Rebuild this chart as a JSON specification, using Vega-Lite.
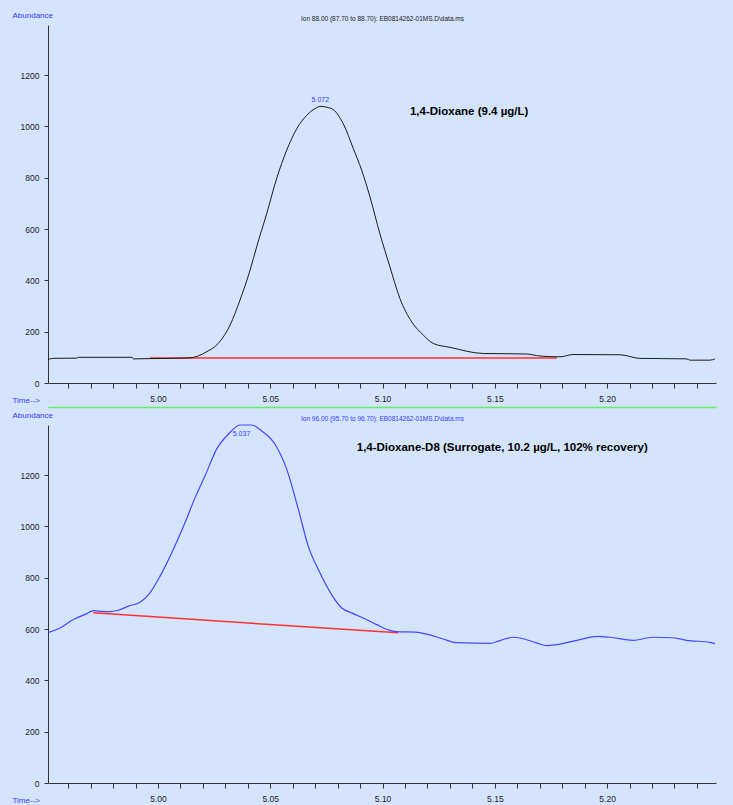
{
  "$schema": "https://vega.github.io/schema/vega-lite/v6.json",
  "background": "#d4e4fc",
  "padding": {"left": 12, "top": 11, "right": 17, "bottom": 1},
  "config": {"view": {"stroke": null}, "font": "Liberation Sans, Arial, sans-serif"},
  "spacing": 42,
  "bounds": "flush",
  "datasets": {
    "top": [
      {"t": 4.951, "v": 92}, {"t": 4.9533, "v": 96}, {"t": 4.9639, "v": 97}, {"t": 4.9645, "v": 100},
      {"t": 4.9885, "v": 100}, {"t": 4.989, "v": 94}, {"t": 4.9964, "v": 95}, {"t": 5.0142, "v": 98},
      {"t": 5.0217, "v": 122}, {"t": 5.0268, "v": 154}, {"t": 5.0321, "v": 226}, {"t": 5.0365, "v": 323},
      {"t": 5.041, "v": 440}, {"t": 5.0439, "v": 530}, {"t": 5.0484, "v": 660}, {"t": 5.0528, "v": 796},
      {"t": 5.0573, "v": 907}, {"t": 5.0618, "v": 991}, {"t": 5.0662, "v": 1043}, {"t": 5.0707, "v": 1073},
      {"t": 5.0721, "v": 1078}, {"t": 5.0773, "v": 1069}, {"t": 5.0825, "v": 1010}, {"t": 5.087, "v": 913},
      {"t": 5.0907, "v": 829}, {"t": 5.0944, "v": 725}, {"t": 5.0988, "v": 582}, {"t": 5.1033, "v": 452},
      {"t": 5.1077, "v": 330}, {"t": 5.113, "v": 238}, {"t": 5.1181, "v": 187}, {"t": 5.1226, "v": 154},
      {"t": 5.13, "v": 139}, {"t": 5.1448, "v": 115}, {"t": 5.1642, "v": 113}, {"t": 5.1701, "v": 105},
      {"t": 5.179, "v": 102}, {"t": 5.1849, "v": 111}, {"t": 5.2057, "v": 110}, {"t": 5.2146, "v": 96},
      {"t": 5.2354, "v": 94}, {"t": 5.2369, "v": 89}, {"t": 5.2458, "v": 89}, {"t": 5.248, "v": 94}
    ],
    "topBase": [{"t": 4.9964, "v": 97}, {"t": 5.1776, "v": 97}],
    "topPeak": [{"t": 5.0723, "v": 1103, "label": "5.072"}],
    "topName": [{"t": 5.1122, "v": 1056, "label": "1,4-Dioxane (9.4 µg/L)"}],
    "bottom": [
      {"t": 4.9512, "v": 587}, {"t": 4.9564, "v": 604}, {"t": 4.9623, "v": 637}, {"t": 4.9683, "v": 660},
      {"t": 4.9712, "v": 672}, {"t": 4.9742, "v": 669}, {"t": 4.9786, "v": 668}, {"t": 4.9823, "v": 673},
      {"t": 4.9868, "v": 689}, {"t": 4.992, "v": 704}, {"t": 4.9964, "v": 741}, {"t": 5.0009, "v": 806},
      {"t": 5.0068, "v": 910}, {"t": 5.012, "v": 1014}, {"t": 5.0165, "v": 1112}, {"t": 5.0209, "v": 1196},
      {"t": 5.0261, "v": 1301}, {"t": 5.0313, "v": 1359}, {"t": 5.0365, "v": 1395}, {"t": 5.0417, "v": 1395},
      {"t": 5.0462, "v": 1372}, {"t": 5.0521, "v": 1320}, {"t": 5.0573, "v": 1223}, {"t": 5.0625, "v": 1066},
      {"t": 5.0669, "v": 923}, {"t": 5.0721, "v": 819}, {"t": 5.0773, "v": 734}, {"t": 5.0818, "v": 682},
      {"t": 5.0862, "v": 663}, {"t": 5.0914, "v": 643}, {"t": 5.0974, "v": 617}, {"t": 5.1033, "v": 595},
      {"t": 5.1063, "v": 590}, {"t": 5.1144, "v": 588}, {"t": 5.1211, "v": 577}, {"t": 5.127, "v": 561},
      {"t": 5.133, "v": 547}, {"t": 5.1478, "v": 544}, {"t": 5.1523, "v": 555}, {"t": 5.1582, "v": 568},
      {"t": 5.1626, "v": 562}, {"t": 5.1686, "v": 546}, {"t": 5.1731, "v": 535}, {"t": 5.1775, "v": 539},
      {"t": 5.1879, "v": 559}, {"t": 5.196, "v": 571}, {"t": 5.2012, "v": 568}, {"t": 5.2116, "v": 556},
      {"t": 5.2204, "v": 568}, {"t": 5.2294, "v": 566}, {"t": 5.2354, "v": 556}, {"t": 5.2458, "v": 548},
      {"t": 5.248, "v": 543}
    ],
    "bottomBase": [{"t": 4.9712, "v": 663}, {"t": 5.107, "v": 585}],
    "bottomPeak": [{"t": 5.0372, "v": 1361, "label": "5.037"}],
    "bottomName": [{"t": 5.0885, "v": 1305, "label": "1,4-Dioxane-D8 (Surrogate, 10.2 µg/L, 102% recovery)"}]
  },
  "vconcat": [
    {
      "width": 668,
      "height": 358,
      "resolve": {"axis": {"x": "independent"}},
      "layer": [
        {
          "data": {"name": "topBase"},
          "mark": {"type": "line", "color": "#ff3030", "strokeWidth": 1.5},
          "encoding": {
            "x": {
              "field": "t", "type": "quantitative",
              "scale": {"domain": [4.951, 5.2485], "nice": false, "zero": false},
              "axis": {
                "orient": "bottom",
                "values": [5.0, 5.05, 5.1, 5.15, 5.2],
                "format": ".2f",
                "labelOverlap": false, "grid": false,
                "domainColor": "#333333", "tickColor": "#333333", "tickSize": 5,
                "labelFont": "Liberation Sans, Arial, sans-serif",
                "labelFontSize": 8.5, "labelColor": "#222222", "labelPadding": 6,
                "title": "Time-->",
                "titleFont": "Liberation Sans, Arial, sans-serif",
                "titleFontSize": 8, "titleFontWeight": "normal", "titleColor": "#3a3aff",
                "titleAlign": "left", "titleBaseline": "middle", "titleAngle": 0,
                "titleX": -36, "titleY": 17
              }
            },
            "y": {
              "field": "v", "type": "quantitative",
              "scale": {"domain": [0, 1395], "nice": false},
              "axis": {
                "values": [0,50,100,150,200,250,300,350,400,450,500,550,600,650,700,750,800,850,900,950,1000,1050,1100,1150,1200,1250,1300,1350],
                "format": "d",
                "labelExpr": "datum.value % 200 === 0 ? datum.label : ''",
                "labelOverlap": false, "grid": false,
                "domainColor": "#333333", "tickColor": "#333333", "tickSize": 4,
                "labelFont": "Liberation Sans, Arial, sans-serif",
                "labelFontSize": 8.5, "labelColor": "#222222", "labelPadding": 5,
                "title": "Abundance",
                "titleFont": "Liberation Sans, Arial, sans-serif",
                "titleFontSize": 8, "titleFontWeight": "normal", "titleColor": "#3a3aff",
                "titleAlign": "left", "titleBaseline": "middle", "titleAngle": 0,
                "titleX": -36, "titleY": -10
              }
            }
          }
        },
        {
          "data": {"name": "top"},
          "mark": {"type": "line", "color": "#1a1a1a", "strokeWidth": 1, "interpolate": "monotone"},
          "encoding": {
            "x": {
              "field": "t", "type": "quantitative",
              "scale": {"domain": [4.951, 5.2485], "nice": false, "zero": false},
              "axis": {
                "orient": "bottom",
                "values": [4.96,4.97,4.98,4.99,5.01,5.02,5.03,5.04,5.06,5.07,5.08,5.09,5.11,5.12,5.13,5.14,5.16,5.17,5.18,5.19,5.21,5.22,5.23,5.24],
                "labels": false, "domain": false, "grid": false,
                "tickColor": "#333333", "tickSize": 5, "title": null
              }
            },
            "y": {"field": "v", "type": "quantitative", "scale": {"domain": [0, 1395], "nice": false}}
          }
        },
        {
          "data": {"name": "topPeak"},
          "mark": {"type": "text", "color": "#3a3aff", "fontSize": 7, "font": "Liberation Sans, Arial, sans-serif", "align": "center", "baseline": "middle"},
          "encoding": {
            "x": {
              "field": "t", "type": "quantitative",
              "scale": {"domain": [4.951, 5.2485], "nice": false, "zero": false},
              "axis": {
                "orient": "top", "domain": false, "ticks": false, "labels": false, "grid": false,
                "title": "Ion 88.00 (87.70 to 88.70): EB0814262-01MS.D\\data.ms",
                "titleFont": "Liberation Sans, Arial, sans-serif",
                "titleFontSize": 6.5, "titleFontWeight": "normal", "titleColor": "#222222",
                "titleAlign": "center", "titleBaseline": "middle", "titleAngle": 0,
                "titleX": 334, "titleY": -7
              }
            },
            "y": {"field": "v", "type": "quantitative", "scale": {"domain": [0, 1395], "nice": false}},
            "text": {"field": "label"}
          }
        },
        {
          "data": {"name": "topName"},
          "mark": {"type": "text", "color": "#000000", "fontSize": 11.5, "fontWeight": "bold", "font": "Liberation Sans, Arial, sans-serif", "align": "left", "baseline": "middle"},
          "encoding": {
            "x": {"field": "t", "type": "quantitative", "scale": {"domain": [4.951, 5.2485], "nice": false, "zero": false}, "axis": null},
            "y": {"field": "v", "type": "quantitative", "scale": {"domain": [0, 1395], "nice": false}},
            "text": {"field": "label"}
          }
        }
      ]
    },
    {
      "width": 668,
      "height": 358,
      "resolve": {"axis": {"x": "independent"}},
      "layer": [
        {
          "data": {"name": "bottomBase"},
          "mark": {"type": "line", "color": "#ff3030", "strokeWidth": 1.5},
          "encoding": {
            "x": {
              "field": "t", "type": "quantitative",
              "scale": {"domain": [4.951, 5.2485], "nice": false, "zero": false},
              "axis": {
                "orient": "bottom",
                "values": [5.0, 5.05, 5.1, 5.15, 5.2],
                "format": ".2f",
                "labelOverlap": false, "grid": false,
                "domainColor": "#333333", "tickColor": "#333333", "tickSize": 5,
                "labelFont": "Liberation Sans, Arial, sans-serif",
                "labelFontSize": 8.5, "labelColor": "#222222", "labelPadding": 6,
                "title": "Time-->",
                "titleFont": "Liberation Sans, Arial, sans-serif",
                "titleFontSize": 8, "titleFontWeight": "normal", "titleColor": "#3a3aff",
                "titleAlign": "left", "titleBaseline": "middle", "titleAngle": 0,
                "titleX": -36, "titleY": 17
              }
            },
            "y": {
              "field": "v", "type": "quantitative",
              "scale": {"domain": [0, 1395], "nice": false},
              "axis": {
                "values": [0,50,100,150,200,250,300,350,400,450,500,550,600,650,700,750,800,850,900,950,1000,1050,1100,1150,1200,1250,1300,1350],
                "format": "d",
                "labelExpr": "datum.value % 200 === 0 ? datum.label : ''",
                "labelOverlap": false, "grid": false,
                "domainColor": "#333333", "tickColor": "#333333", "tickSize": 4,
                "labelFont": "Liberation Sans, Arial, sans-serif",
                "labelFontSize": 8.5, "labelColor": "#222222", "labelPadding": 5,
                "title": "Abundance",
                "titleFont": "Liberation Sans, Arial, sans-serif",
                "titleFontSize": 8, "titleFontWeight": "normal", "titleColor": "#3a3aff",
                "titleAlign": "left", "titleBaseline": "middle", "titleAngle": 0,
                "titleX": -36, "titleY": -10
              }
            }
          }
        },
        {
          "data": {"name": "bottom"},
          "mark": {"type": "line", "color": "#4646ff", "strokeWidth": 1.2, "interpolate": "monotone"},
          "encoding": {
            "x": {
              "field": "t", "type": "quantitative",
              "scale": {"domain": [4.951, 5.2485], "nice": false, "zero": false},
              "axis": {
                "orient": "bottom",
                "values": [4.96,4.97,4.98,4.99,5.01,5.02,5.03,5.04,5.06,5.07,5.08,5.09,5.11,5.12,5.13,5.14,5.16,5.17,5.18,5.19,5.21,5.22,5.23,5.24],
                "labels": false, "domain": false, "grid": false,
                "tickColor": "#333333", "tickSize": 5, "title": null
              }
            },
            "y": {"field": "v", "type": "quantitative", "scale": {"domain": [0, 1395], "nice": false}}
          }
        },
        {
          "data": {"name": "bottomPeak"},
          "mark": {"type": "text", "color": "#3a3aff", "fontSize": 7, "font": "Liberation Sans, Arial, sans-serif", "align": "center", "baseline": "middle"},
          "encoding": {
            "x": {
              "field": "t", "type": "quantitative",
              "scale": {"domain": [4.951, 5.2485], "nice": false, "zero": false},
              "axis": {
                "orient": "top", "offset": 18,
                "ticks": false, "labels": false, "grid": false,
                "domain": true, "domainColor": "#66ee66", "domainWidth": 1.5, "domainOpacity": 1,
                "title": "Ion 96.00 (95.70 to 96.70): EB0814262-01MS.D\\data.ms",
                "titleFont": "Liberation Sans, Arial, sans-serif",
                "titleFontSize": 6.5, "titleFontWeight": "normal", "titleColor": "#3a3aff",
                "titleAlign": "center", "titleBaseline": "middle", "titleAngle": 0,
                "titleX": 334, "titleY": 11
              }
            },
            "y": {"field": "v", "type": "quantitative", "scale": {"domain": [0, 1395], "nice": false}},
            "text": {"field": "label"}
          }
        },
        {
          "data": {"name": "bottomName"},
          "mark": {"type": "text", "color": "#000000", "fontSize": 11.5, "fontWeight": "bold", "font": "Liberation Sans, Arial, sans-serif", "align": "left", "baseline": "middle"},
          "encoding": {
            "x": {"field": "t", "type": "quantitative", "scale": {"domain": [4.951, 5.2485], "nice": false, "zero": false}, "axis": null},
            "y": {"field": "v", "type": "quantitative", "scale": {"domain": [0, 1395], "nice": false}},
            "text": {"field": "label"}
          }
        }
      ]
    }
  ]
}
